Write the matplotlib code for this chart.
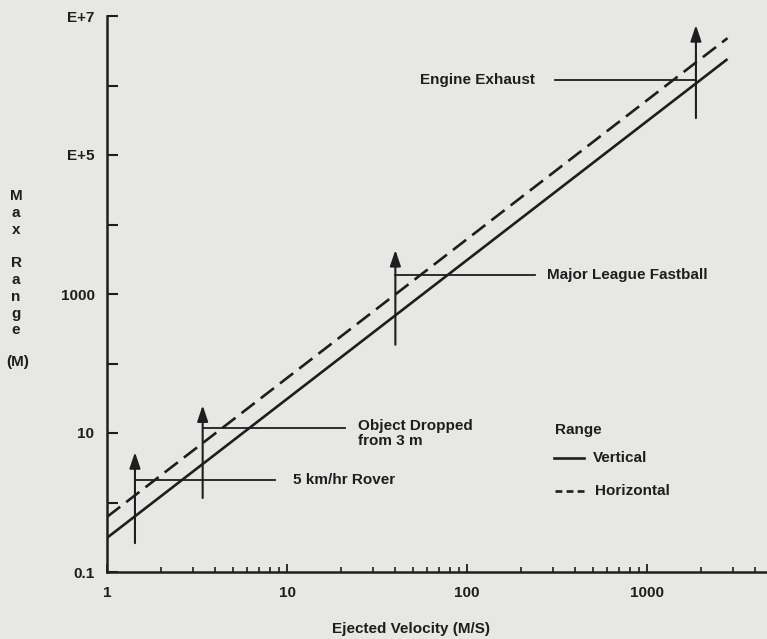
import numpy as np
import matplotlib
matplotlib.use("Agg")
import matplotlib.pyplot as plt
from matplotlib.ticker import FixedLocator, FixedFormatter, NullFormatter

# ---- data ----
velocity_ends = [1.0, 2800.0]          # m/s, ends of the two range lines
vertical_range = [0.31, 2.4e6]         # m
horizontal_range = [0.62, 4.8e6]       # m

ann_labels = ["5 km/hr Rover", "Object Dropped\nfrom 3 m", "Major League Fastball", "Engine Exhaust"]
ann_velocity = [1.43, 3.4, 40.0, 1870.0]
ann_arrow_low = [0.26, 1.16, 186.0, 3.4e5]
ann_arrow_high = [5.3, 25.0, 4300.0, 7.4e6]
ann_level = [2.1, 11.8, 1860.0, 1.2e6]
ann_line_end = [8.6, 21.0, 238.0, 310.0]

ytick_vals = [0.1, 1, 10, 100, 1000, 1e4, 1e5, 1e6, 1e7]
ytick_labels = ["0.1", "", "10", "", "1000", "", "E+5", "", "E+7"]
xtick_vals = [1, 10, 100, 1000]
xtick_labels = ["1", "10", "100", "1000"]

BG = "#e7e7e5"
INK = "#1e1e1e"
FONT = "Liberation Sans"
FS = 11

W, H = 767, 639
fig = plt.figure(figsize=(W / 100, H / 100), dpi=100, facecolor=BG)
ax = fig.add_axes([107 / W, 1 - 572 / H, 1 - 107 / W, (572 - 16) / H])
ax.set_facecolor(BG)
ax.set_xscale("log")
ax.set_yscale("log")
ax.set_xlim(1, 10 ** ((W - 107) / 180))
ax.set_ylim(0.1, 1e7)

for s in ["top", "right"]:
    ax.spines[s].set_visible(False)
for s in ["left", "bottom"]:
    ax.spines[s].set_linewidth(1.8)
    ax.spines[s].set_color(INK)

# lines
ax.plot(velocity_ends, vertical_range, color=INK, lw=1.9, solid_capstyle="butt")
ax.plot(velocity_ends, horizontal_range, color=INK, lw=1.9, dashes=(6.3, 2.9))

# annotations
for lab, v, lo, hi, lvl, xe in zip(ann_labels, ann_velocity, ann_arrow_low,
                                   ann_arrow_high, ann_level, ann_line_end):
    ax.annotate("", xy=(v, hi), xytext=(v, lo),
                arrowprops=dict(arrowstyle="-|>,head_length=0.8,head_width=0.27",
                                lw=1.5, color=INK, mutation_scale=12,
                                shrinkA=0, shrinkB=0))
    ax.plot([v, xe], [lvl, lvl], color=INK, lw=1.3)

txt_kw = dict(fontsize=FS, color=INK, family=FONT, fontweight="bold")
ax.text(10.8, 2.1, ann_labels[0], ha="left", va="center", **txt_kw)
ax.text(24.8, 15.8, ann_labels[1], ha="left", va="top", linespacing=1.1, **txt_kw)
ax.text(278, 1860, ann_labels[2], ha="left", va="center", **txt_kw)
ax.text(238, 1.2e6, ann_labels[3], ha="right", va="center", **txt_kw)

# legend (manual)
def fx(px):
    return px / W

def fy(py):
    return 1 - py / H

fig.text(fx(555), fy(430), "Range", ha="left", va="center", **txt_kw)
fig.add_artist(plt.Line2D([fx(554), fx(584)], [fy(458), fy(458)], color=INK, lw=1.9))
fig.text(fx(593), fy(458), "Vertical", ha="left", va="center", **txt_kw)
fig.add_artist(plt.Line2D([fx(555), fx(587)], [fy(491), fy(491)], color=INK, lw=1.9,
                          dashes=(2.6, 1.6)))
fig.text(fx(595), fy(491), "Horizontal", ha="left", va="center", **txt_kw)

# ticks
ax.yaxis.set_major_locator(FixedLocator(ytick_vals))
ax.yaxis.set_major_formatter(FixedFormatter(ytick_labels))
ax.yaxis.set_minor_locator(FixedLocator([]))
ax.tick_params(axis="y", which="major", direction="in", length=8, width=1.5,
               color=INK, pad=9, labelsize=FS, labelcolor=INK)
ax.xaxis.set_major_locator(FixedLocator(xtick_vals))
ax.xaxis.set_major_formatter(FixedFormatter(xtick_labels))
ax.xaxis.set_minor_locator(matplotlib.ticker.LogLocator(base=10, subs=np.arange(2, 10)))
ax.xaxis.set_minor_formatter(NullFormatter())
ax.tick_params(axis="x", which="major", direction="in", length=6, width=1.3,
               color=INK, pad=10, labelsize=FS, labelcolor=INK)
ax.tick_params(axis="x", which="minor", direction="in", length=3.5, width=1.2, color=INK)
for lab in ax.get_xticklabels() + ax.get_yticklabels():
    lab.set_family(FONT)
    lab.set_fontweight("bold")

# axis titles
fig.text(fx(411), fy(629), "Ejected Velocity (M/S)", ha="center", va="center", **txt_kw)
for ch, py in zip("MaxRange", [196, 213, 230, 263, 280, 297, 314, 330]):
    fig.text(fx(16), fy(py), ch, ha="center", va="center", **txt_kw)
fig.text(fx(18), fy(362), "(M)", ha="center", va="center", **txt_kw)

fig.savefig("out.png", dpi=100, facecolor=BG)
